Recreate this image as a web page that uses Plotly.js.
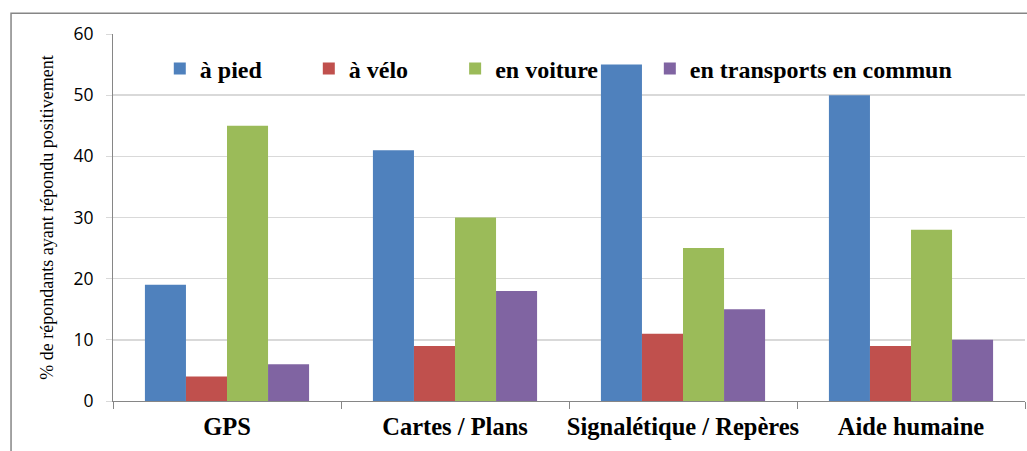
<!DOCTYPE html>
<html>
<head>
<meta charset="utf-8">
<script src="https://cdn.plot.ly/plotly-3.0.1.min.js"></script>
<style>html,body{margin:0;padding:0;background:#fff;}#chart{width:1027px;height:451px;}</style>
</head>
<body>
<div id="chart"></div>
<script>
const categories = ["GPS", "Cartes / Plans", "Signalétique / Repères", "Aide humaine"];
const seriesNames = ["à pied", "à vélo", "en voiture", "en transports en commun"];
const aPied = [19, 41, 55, 50];
const aVelo = [4, 9, 11, 9];
const enVoiture = [45, 30, 25, 28];
const enTransports = [6, 18, 15, 10];
const colors = ["#4f81bd", "#c0504d", "#9bbb59", "#8064a2"];
const yTicks = [0, 10, 20, 30, 40, 50, 60];

const SERIF = "Liberation Serif, Times New Roman, serif";
const PADS = ["\u00a0".repeat(7), "\u00a0".repeat(7), "\u00a0".repeat(7) + "\u2009", ""];

const allValues = [aPied, aVelo, enVoiture, enTransports];
const traces = allValues.map((vals, i) => ({
  type: "bar",
  name: seriesNames[i] + PADS[i],
  x: categories,
  y: vals,
  marker: {color: colors[i], line: {width: 0}},
  hoverinfo: "y"
}));

const layout = {
  width: 1027, height: 451,
  margin: {l: 113, r: 2, t: 34, b: 50},
  paper_bgcolor: "#fff", plot_bgcolor: "#fff",
  barmode: "group",
  bargap: 0.28, bargroupgap: 0,
  showlegend: true,
  legend: {
    orientation: "h", x: 0.0513, y: 0.905, xanchor: "left", yanchor: "middle",
    font: {family: SERIF, size: 24, color: "#000", weight: "bold"},
    bgcolor: "rgba(0,0,0,0)", itemwidth: 30, traceorder: "normal"
  },
  xaxis: {
    type: "category",
    tickson: "boundaries", ticks: "outside", ticklen: 7, tickcolor: "#868686",
    showline: true, linecolor: "#868686", linewidth: 1,
    showgrid: false, tickangle: 0,
    tickfont: {family: SERIF, size: 24.5, color: "#000", weight: "bold"},
    ticklabelstandoff: 4
  },
  yaxis: {
    range: [0, 60], tickvals: yTicks, ticktext: yTicks.map(String),
    ticks: "outside", ticklen: 6, tickcolor: "#d9d9d9",
    showline: true, linecolor: "#868686", linewidth: 1,
    showgrid: true, gridcolor: "#d9d9d9", gridwidth: 1.5,
    zeroline: false,
    tickfont: {family: "Open Sans", size: 17.5, color: "#000"},
    ticklabelstandoff: 9,
    title: {text: "% de répondants ayant répondu positivement", font: {family: SERIF, size: 18, color: "#000"}, standoff: 15}
  },
  shapes: [{
    type: "rect", xref: "paper", yref: "paper",
    x0: -0.1118, x1: 1.2, y0: -0.5, y1: 1.0568,
    line: {color: "#868686", width: 1.5}, fillcolor: "rgba(0,0,0,0)", layer: "above"
  }]
};

Plotly.newPlot("chart", traces, layout, {displayModeBar: false, staticPlot: true});
</script>
</body>
</html>
